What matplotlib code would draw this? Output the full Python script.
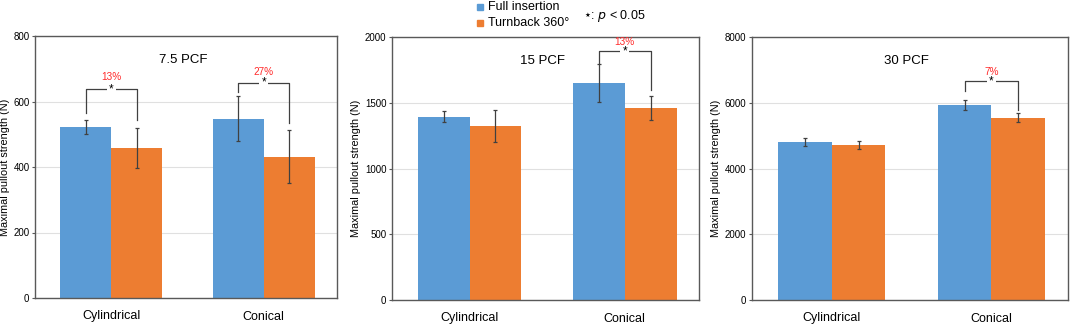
import numpy as np
import matplotlib.pyplot as plt

plt.rcParams['font.family'] = ['Liberation Sans', 'DejaVu Sans']

categories = ['Cylindrical', 'Conical']
series = ['Full insertion', 'Turnback 360°']
titles = ['7.5 PCF', '15 PCF', '30 PCF']

full_mean = [[523, 548], [1394, 1650], [4800, 5920]]
full_err = [[22, 68], [43, 142], [125, 150]]
turn_mean = [[458, 432], [1325, 1462], [4710, 5545]]
turn_err = [[60, 82], [120, 92], [125, 140]]

ymax = [800, 2000, 8000]
yticks = [[0, 200, 400, 600, 800], [0, 500, 1000, 1500, 2000], [0, 2000, 4000, 6000, 8000]]

# significance brackets: (panel, category, label, label y, top, left leg end, right leg end)
brackets = [
    (0, 0, '13%', 675, 637, 565, 544),
    (0, 1, '27%', 691, 658, 630, 535),
    (1, 1, '13%', 1962, 1893, 1800, 1597),
    (2, 1, '7%', 6937, 6654, 6360, 5772),
]

blue = '#5b9bd5'
orange = '#ed7d31'
spine_c = '#595959'

fig = plt.figure(figsize=(10.72, 3.25), dpi=100)
W, H = 1072, 325
boxes = [(35, 36, 337, 298), (392, 37, 699, 300), (752, 37, 1068, 300)]
axes = []
for (x0, y0, x1, y1) in boxes:
    axes.append(fig.add_axes([x0 / W, 1 - y1 / H, (x1 - x0) / W, (y1 - y0) / H]))

x = np.arange(len(categories))
w = 0.335
for i, ax in enumerate(axes):
    ax.bar(x - w / 2, full_mean[i], w, color=blue, zorder=2)
    ax.bar(x + w / 2, turn_mean[i], w, color=orange, zorder=2)
    ax.errorbar(x - w / 2, full_mean[i], yerr=full_err[i], fmt='none',
                ecolor='#404040', elinewidth=0.9, capsize=1.5, capthick=0.9, zorder=3)
    ax.errorbar(x + w / 2, turn_mean[i], yerr=turn_err[i], fmt='none',
                ecolor='#404040', elinewidth=0.9, capsize=1.5, capthick=0.9, zorder=3)
    ax.set_xlim(-0.5, 1.48)
    ax.set_ylim(0, ymax[i])
    ax.set_yticks(yticks[i])
    ax.tick_params(axis='y', labelsize=7, length=2, color=spine_c, pad=2)
    ax.set_xticks(x)
    ax.set_xticklabels(categories, fontsize=9)
    ax.tick_params(axis='x', length=0, pad=9)
    ax.grid(axis='y', color='#e0e0e0', linewidth=0.8, zorder=0)
    ax.set_axisbelow(True)
    for s in ax.spines.values():
        s.set_color(spine_c)
        s.set_linewidth(1.0)
    ax.set_ylabel('Maximal pullout strength (N)', fontsize=7.8, labelpad=2.5)
    ax.text(0.49, 0.91, titles[i], transform=ax.transAxes, ha='center',
            va='center', fontsize=9.5)

for (p, c, lab, ly, top, lend, rend) in brackets:
    ax = axes[p]
    xl, xr = c - w / 2, c + w / 2
    ax.plot([xl, xl, xr, xr], [lend, top, top, rend], color='#404040', lw=0.9, zorder=4)
    ax.text(c, top, '*', ha='center', va='center', fontsize=8.5,
            bbox=dict(facecolor='white', edgecolor='none', pad=1.5), zorder=5)
    ax.text(c, ly, lab, ha='center', va='center',
            fontsize=7.2, color='#ff2a2a', zorder=5)

# legend on top
fig.patches.append(plt.Rectangle((477 / W, 1 - 10 / H), 6 / W, 6 / H,
                                 transform=fig.transFigure, color=blue))
fig.patches.append(plt.Rectangle((477 / W, 1 - 26 / H), 6 / W, 6 / H,
                                 transform=fig.transFigure, color=orange))
fig.text(488 / W, 1 - 7 / H, series[0], fontsize=9, va='center')
fig.text(488 / W, 1 - 23 / H, series[1], fontsize=9, va='center')
fig.text(583 / W, 1 - 16 / H, '$\\star$: $\\it{p}$ < 0.05', fontsize=9, va='center')

fig.savefig('out.png', dpi=100)
